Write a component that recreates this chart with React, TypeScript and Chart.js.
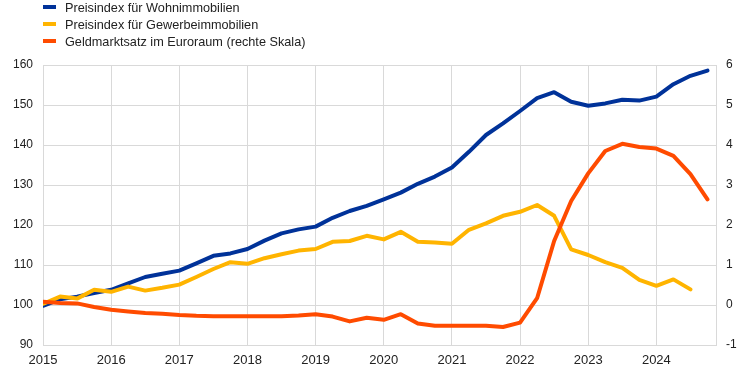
import React, { useEffect, useRef } from "react";
import { Chart, registerables } from "chart.js";

Chart.register(...registerables);

const years = ["2015", "2016", "2017", "2018", "2019", "2020", "2021", "2022", "2023", "2024"];

const seriesNames = [
  "Preisindex für Wohnimmobilien",
  "Preisindex für Gewerbeimmobilien",
  "Geldmarktsatz im Euroraum (rechte Skala)",
];

const seriesColors = ["#003299", "#FFB400", "#FF4B00"];

// Quarterly, 2015 Q1 .. 2024 Q4
const wohn = [
  99.8, 101.4, 102.1, 103.0, 103.8, 105.4, 107.0, 107.8, 108.6, 110.4,
  112.3, 112.9, 114.0, 116.1, 117.9, 118.9, 119.6, 121.8, 123.5, 124.8,
  126.4, 128.1, 130.3, 132.1, 134.4, 138.3, 142.5, 145.4, 148.5, 151.7,
  153.2, 150.8, 149.8, 150.4, 151.3, 151.1, 152.1, 155.2, 157.3, 158.6,
];

const gewerbe = [
  100.3, 102.1, 101.6, 103.8, 103.3, 104.6, 103.6, 104.3, 105.1, 107.0,
  109.0, 110.7, 110.3, 111.7, 112.7, 113.6, 114.0, 115.8, 116.0, 117.3,
  116.4, 118.3, 115.8, 115.6, 115.3, 118.8, 120.4, 122.3, 123.3, 125.0,
  122.3, 113.9, 112.5, 110.7, 109.3, 106.3, 104.8, 106.4, 103.9,
];

const geldmarkt = [
  0.08, 0.05, 0.04, -0.05, -0.12, -0.16, -0.2, -0.22, -0.25, -0.27,
  -0.28, -0.28, -0.28, -0.28, -0.28, -0.26, -0.23, -0.29, -0.41, -0.32,
  -0.37, -0.23, -0.46, -0.52, -0.52, -0.52, -0.52, -0.55, -0.44, 0.17,
  1.6, 2.6, 3.29, 3.85, 4.03, 3.95, 3.91, 3.73, 3.27, 2.64,
];

const yearTickValues = years.map((_, i) => i * 4);

const toPoints = (arr: number[]) => arr.map((v, i) => ({ x: i, y: v }));

export default function App() {
  const canvasRef = useRef<HTMLCanvasElement | null>(null);

  useEffect(() => {
    const canvas = canvasRef.current;
    if (!canvas) return;
    const family = "'Liberation Sans', Arial, sans-serif";
    const font = { family, size: 12 };
    const xFont = { family, size: 13 };
    const gridColor = "#d9d9d9";
    const chart = new Chart(canvas, {
      type: "line",
      data: {
        datasets: [
          {
            label: seriesNames[2],
            data: toPoints(geldmarkt),
            borderColor: seriesColors[2],
            backgroundColor: seriesColors[2],
            yAxisID: "y2",
            order: 0,
          },
          {
            label: seriesNames[1],
            data: toPoints(gewerbe),
            borderColor: seriesColors[1],
            backgroundColor: seriesColors[1],
            yAxisID: "y",
            order: 1,
          },
          {
            label: seriesNames[0],
            data: toPoints(wohn),
            borderColor: seriesColors[0],
            backgroundColor: seriesColors[0],
            yAxisID: "y",
            order: 2,
          },
        ],
      },
      options: {
        responsive: false,
        animation: false,
        maintainAspectRatio: false,
        parsing: false as any,
        elements: {
          point: { radius: 0, hoverRadius: 0 },
          line: { borderWidth: 4, tension: 0, borderJoinStyle: "round", borderCapStyle: "round" },
        },
        layout: { padding: { top: 65, left: 0, right: 0, bottom: 0 } },
        plugins: {
          legend: { display: false },
          tooltip: { enabled: false },
        },
        scales: {
          x: {
            type: "linear",
            min: 0,
            max: 39.5,
            afterBuildTicks: (scale: any) => {
              scale.ticks = yearTickValues.map((v) => ({ value: v }));
            },
            afterFit: (scale: any) => {
              scale.height = 28;
            },
            ticks: {
              font: xFont,
              color: "#222",
              padding: 8,
              maxRotation: 0,
              autoSkip: false,
              callback: (v: any) => years[Math.round(Number(v) / 4)] ?? "",
            },
            grid: { color: gridColor, drawTicks: false, lineWidth: 1 },
            border: { color: gridColor, width: 1 },
          },
          y: {
            position: "left",
            min: 90,
            max: 160,
            afterFit: (scale: any) => {
              scale.width = 43;
            },
            ticks: { font, color: "#222", stepSize: 10, padding: 10 },
            grid: { color: gridColor, drawTicks: false, lineWidth: 1 },
            border: { color: gridColor, width: 1 },
          },
          y2: {
            position: "right",
            min: -1,
            max: 6,
            afterFit: (scale: any) => {
              scale.width = 29;
            },
            ticks: { font, color: "#222", stepSize: 1, padding: 10 },
            grid: { display: false, drawTicks: false },
            border: { color: gridColor, width: 1 },
          },
        },
      },
    });
    return () => chart.destroy();
  }, []);

  return (
    <div
      style={{
        position: "fixed",
        left: 0,
        top: 0,
        width: 745,
        height: 373,
        background: "#fff",
        fontFamily: "'Liberation Sans', Arial, sans-serif",
      }}
    >
      <canvas ref={canvasRef} width={745} height={373} style={{ position: "absolute", left: 0, top: 0 }} />
      {seriesNames.map((name, i) => (
        <div
          key={name}
          style={{
            position: "absolute",
            left: 43,
            top: i * 17.3 - 0.3,
            height: 17,
            lineHeight: "17px",
            fontSize: 12.7,
            color: "#222",
            whiteSpace: "nowrap",
          }}
        >
          <span
            style={{
              position: "absolute",
              left: 0,
              top: 5,
              width: 13,
              height: 4,
              background: seriesColors[i],
            }}
          />
          <span style={{ position: "absolute", left: 22, top: 0 }}>{name}</span>
        </div>
      ))}
    </div>
  );
}
